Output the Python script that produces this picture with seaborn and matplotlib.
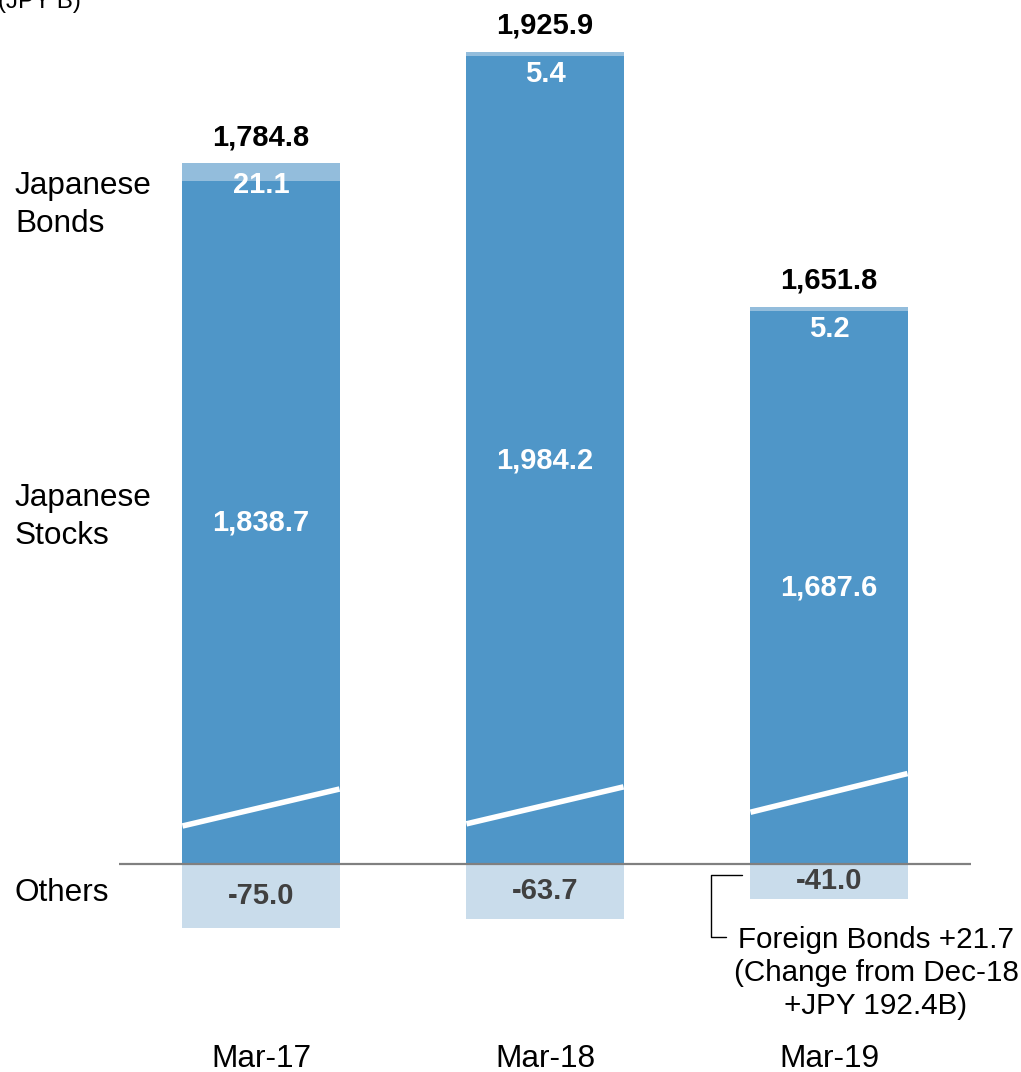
import numpy as np
import matplotlib
matplotlib.use("Agg")
import matplotlib.pyplot as plt
import seaborn as sns

# Unrealized gains on securities by asset class (JPY billions)
periods = ["Mar-17", "Mar-18", "Mar-19"]
japanese_stocks = [1838.7, 1984.2, 1687.6]
japanese_bonds = [21.1, 5.4, 5.2]
others = [-75.0, -63.7, -41.0]
row_labels = ["Japanese\nBonds", "Japanese\nStocks", "Others"]
unit_label = "(JPY B)"
note_text = "Foreign Bonds +21.7\n(Change from Dec-18\n+JPY 192.4B)"

totals = [s + b + o for s, b, o in zip(japanese_stocks, japanese_bonds, others)]

# The stocks column is drawn on a broken axis: this much is cut out of it
AXIS_BREAK = 1045.0
# Where the white break stroke crosses each bar (left edge, right edge)
break_left = [44.0, 46.5, 60.0]
break_right = [87.0, 89.5, 105.0]

STOCK_COLOR = "#4F96C8"
BOND_COLOR = "#93BDDC"
OTHER_COLOR = "#C9DCEB"
BAR_WIDTH = 0.553

sns.set_theme(style="white")
plt.rcParams["font.family"] = ["Liberation Sans", "DejaVu Sans"]

W, H = 1021, 1072
fig = plt.figure(figsize=(W / 100, H / 100), dpi=100)
ax = fig.add_axes([119 / W, 105 / H, 852 / W, 963 / H])

stocks_shown = [s - AXIS_BREAK for s in japanese_stocks]
stack_top = [s + b for s, b in zip(stocks_shown, japanese_bonds)]

common = dict(ax=ax, saturation=1, width=BAR_WIDTH, linewidth=0, errorbar=None)
sns.barplot(x=periods, y=stack_top, color=BOND_COLOR, **common)
sns.barplot(x=periods, y=stocks_shown, color=STOCK_COLOR, **common)
sns.barplot(x=periods, y=others, color=OTHER_COLOR, **common)

ax.set_xlim(-0.5, 2.5)
ax.set_ylim(-120, 1000)
ax.axhline(0, color="#808080", lw=1.6, zorder=3)
for sp in ax.spines.values():
    sp.set_visible(False)
ax.set_xticks([])
ax.set_yticks([])
ax.set_xlabel("")
ax.set_ylabel("")

# px -> data units on the value axis
k = 963 / 1120.0

for i, period in enumerate(periods):
    x0, x1 = i - BAR_WIDTH / 2, i + BAR_WIDTH / 2
    # axis-break stroke
    ax.plot([x0, x1], [break_left[i], break_right[i]], color="white", lw=4,
            solid_capstyle="butt", zorder=4)
    # net total above the bar
    ax.text(i, stack_top[i] + 18 / k, f"{totals[i]:,.1f}", ha="center", va="baseline",
            fontsize=21, fontweight="bold", color="black", clip_on=False)
    # bonds label
    ax.text(i, stack_top[i] - 30 / k, f"{japanese_bonds[i]:,.1f}", ha="center", va="baseline",
            fontsize=21, fontweight="bold", color="white", zorder=5)
    # stocks label
    ax.text(i, stocks_shown[i] / 2, f"{japanese_stocks[i]:,.1f}", ha="center", va="center",
            fontsize=21, fontweight="bold", color="white", zorder=5)
    # others label
    ax.text(i, others[i] / 2, f"{others[i]:,.1f}", ha="center", va="center",
            fontsize=21, fontweight="bold", color="#404040", zorder=5)
    # period label
    ax.text(i, -(1067 - 864) / k, period, ha="center", va="baseline",
            fontsize=22.8, color="black", clip_on=False)

# row labels on the left (baseline of the last line)
for label, y_base in zip(row_labels, [232, 544, 901]):
    fig.text(15 / W, 1 - y_base / H, label, ha="left", va="baseline",
             fontsize=22.7, color="black", linespacing=1.33)

fig.text(-2 / W, 1 - 8 / H, unit_label, ha="left", va="baseline",
         fontsize=17.5, color="black")

# note on foreign bonds with bracket
fig.text(876 / W, 1 - 1014 / H, note_text, ha="center", va="baseline",
         multialignment="center", fontsize=21.3, color="black", linespacing=1.22)
bx = [742 / W, 711 / W, 711 / W, 726 / W]
by = [1 - 875 / H, 1 - 875 / H, 1 - 937 / H, 1 - 937 / H]
fig.add_artist(plt.Line2D(bx, by, color="black", lw=1.0))

fig.savefig("out.png", dpi=100)
